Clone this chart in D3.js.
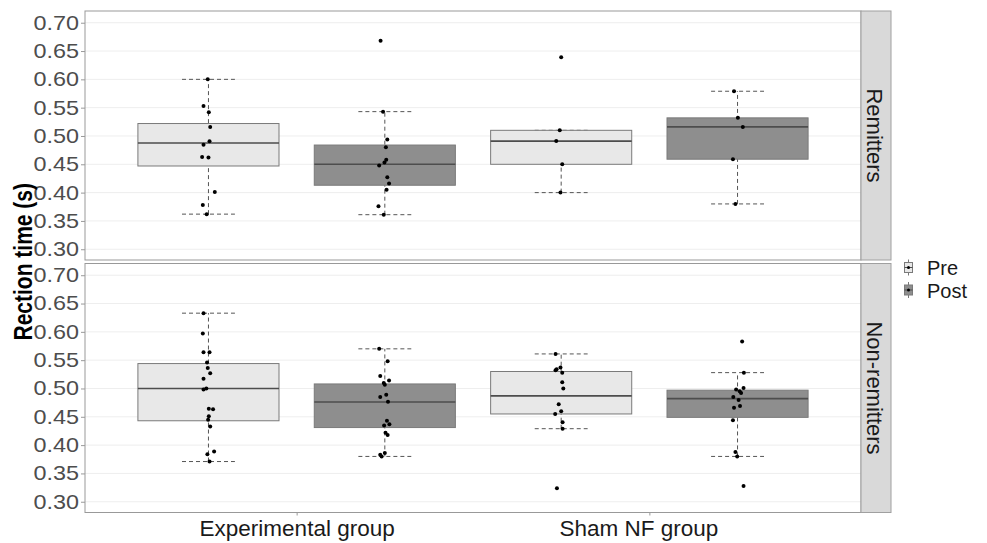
<!DOCTYPE html>
<html>
<head>
<meta charset="utf-8">
<script src="https://cdn.jsdelivr.net/npm/d3@7"></script>
<style>
  body { margin: 0; background: #fff; }
  text { font-family: "Liberation Sans", Arial, sans-serif; }
</style>
</head>
<body>
<svg id="grafico" width="987" height="543"></svg>
<script>
// data
var groups = ["Experimental group", "Sham NF group"];
var times = ["Pre", "Post"];
var panels = ["Remitters", "Non-remitters"];
var yTicks = [0.30, 0.35, 0.40, 0.45, 0.50, 0.55, 0.60, 0.65, 0.70];

// box stats [lower whisker, q1, median, q3, upper whisker], order: Exp Pre, Exp Post, Sham Pre, Sham Post
var remittersBoxes = [
  [0.362, 0.447, 0.4875, 0.522, 0.600],
  [0.361, 0.413, 0.450, 0.484, 0.543],
  [0.400, 0.450, 0.491, 0.510, 0.510],
  [0.380, 0.459, 0.516, 0.532, 0.579]
];
var nonRemittersBoxes = [
  [0.371, 0.443, 0.500, 0.544, 0.633],
  [0.380, 0.431, 0.476, 0.508, 0.570],
  [0.429, 0.455, 0.487, 0.530, 0.561],
  [0.380, 0.449, 0.482, 0.497, 0.528]
];

// individual values [reaction time, jitter in category units]
var remittersPoints = [
  [[0.600,-0.002],[0.553,-0.014],[0.542,0.001],[0.516,0.005],[0.4905,0.003],[0.4845,-0.014],[0.463,-0.018],[0.462,0.000],[0.401,0.018],[0.378,-0.016],[0.362,-0.005]],
  [[0.668,-0.012],[0.543,-0.005],[0.494,0.007],[0.480,0.003],[0.458,0.004],[0.453,-0.001],[0.448,-0.016],[0.427,0.007],[0.416,0.012],[0.405,0.005],[0.376,-0.018],[0.361,-0.003]],
  [[0.639,0.000],[0.510,-0.004],[0.491,-0.014],[0.450,0.003],[0.400,-0.002]],
  [[0.579,-0.010],[0.532,0.001],[0.516,0.015],[0.459,-0.013],[0.380,-0.006]]
];
var nonRemittersPoints = [
  [[0.633,-0.014],[0.597,-0.016],[0.564,-0.014],[0.564,0.003],[0.546,-0.004],[0.536,-0.002],[0.527,0.005],[0.517,-0.014],[0.498,-0.014],[0.500,-0.006],[0.464,0.001],[0.4635,0.013],[0.451,0.001],[0.445,-0.001],[0.433,0.005],[0.384,-0.003],[0.3885,0.016],[0.371,0.003]],
  [[0.570,-0.016],[0.548,0.008],[0.522,-0.013],[0.514,0.012],[0.5095,-0.003],[0.5065,0.000],[0.489,0.004],[0.485,-0.013],[0.4765,0.009],[0.443,0.006],[0.437,0.013],[0.4345,-0.002],[0.422,0.002],[0.418,0.008],[0.383,-0.013],[0.386,0.000],[0.380,-0.009]],
  [[0.561,-0.016],[0.532,-0.016],[0.534,-0.013],[0.537,-0.002],[0.528,0.003],[0.511,0.003],[0.500,0.006],[0.472,-0.007],[0.460,0.000],[0.455,-0.017],[0.4405,0.004],[0.429,0.004],[0.324,-0.012]],
  [[0.583,0.013],[0.528,0.018],[0.501,0.017],[0.498,-0.004],[0.495,0.006],[0.492,0.010],[0.485,-0.012],[0.4795,0.003],[0.469,0.007],[0.466,-0.010],[0.444,-0.013],[0.388,-0.006],[0.380,-0.001],[0.328,0.017]]
];

var panelBoxes = [remittersBoxes, nonRemittersBoxes];
var panelPoints = [remittersPoints, nonRemittersPoints];

// dimensions
var svg = d3.select("svg#grafico");
var left = 85, right = 861, stripW = 30;
var panelTops = [11, 263.5], panelH = 249;
var yLim = [0.281, 0.7207];

var x = d3.scaleLinear().domain([0.4, 2.6]).range([left, right]);
var dodge = 0.25, boxW = 0.4, capW = 0.15;
var fillColor = d3.scaleOrdinal().domain(times).range(["#e8e8e8", "#8e8e8e"]);

panels.forEach(function(p, pi) {
  var top = panelTops[pi];
  var y = d3.scaleLinear().domain(yLim).range([top + panelH, top]);
  var g = svg.append("g");

  // grid
  g.selectAll(".grid").data(yTicks).enter().append("line")
    .attr("x1", left).attr("x2", right)
    .attr("y1", function(d) { return y(d); })
    .attr("y2", function(d) { return y(d); })
    .attr("stroke", "#eeeeee").attr("stroke-width", 1);

  var boxes = panelBoxes[pi].map(function(s, i) {
    return { stats: s, cx: (Math.floor(i / 2) + 1) + (i % 2 === 0 ? -dodge : dodge), time: times[i % 2] };
  });

  // dashed whiskers + caps
  boxes.forEach(function(b) {
    var s = b.stats;
    g.append("line")
      .attr("x1", x(b.cx)).attr("x2", x(b.cx))
      .attr("y1", y(s[0])).attr("y2", y(s[4]))
      .attr("stroke", "#555").attr("stroke-dasharray", "4,3");
    [s[0], s[4]].forEach(function(v) {
      g.append("line")
        .attr("x1", x(b.cx - capW / 2)).attr("x2", x(b.cx + capW / 2))
        .attr("y1", y(v)).attr("y2", y(v))
        .attr("stroke", "#555").attr("stroke-dasharray", "4,3");
    });
  });

  // boxes
  boxes.forEach(function(b) {
    var s = b.stats;
    g.append("rect")
      .attr("x", x(b.cx - boxW / 2)).attr("width", x(b.cx + boxW / 2) - x(b.cx - boxW / 2))
      .attr("y", y(s[3])).attr("height", y(s[1]) - y(s[3]))
      .attr("fill", fillColor(b.time)).attr("stroke", "#7a7a7a").attr("stroke-width", 1);
    g.append("line")
      .attr("x1", x(b.cx - boxW / 2)).attr("x2", x(b.cx + boxW / 2))
      .attr("y1", y(s[2])).attr("y2", y(s[2]))
      .attr("stroke", "#4d4d4d").attr("stroke-width", 1.6);
  });

  // jittered points
  panelPoints[pi].forEach(function(pts, i) {
    var cx = boxes[i].cx;
    g.selectAll(null).data(pts).enter().append("circle")
      .attr("cx", function(d) { return x(cx + d[1]); })
      .attr("cy", function(d) { return y(d[0]); })
      .attr("r", 2).attr("fill", "#000");
  });

  // panel border
  g.append("rect")
    .attr("x", left).attr("y", top).attr("width", right - left).attr("height", panelH)
    .attr("fill", "none").attr("stroke", "#999").attr("stroke-width", 1);

  // strip
  g.append("rect")
    .attr("x", right).attr("y", top).attr("width", stripW).attr("height", panelH)
    .attr("fill", "#d9d9d9").attr("stroke", "#a0a0a0").attr("stroke-width", 1);
  g.append("text")
    .attr("transform", "translate(" + (right + 6) + "," + (top + panelH / 2) + ") rotate(90)")
    .attr("text-anchor", "middle")
    .style("font-size", "22px").style("fill", "#1a1a1a")
    .text(p);

  // y axis
  var ax = g.append("g").attr("transform", "translate(" + left + ",0)")
    .call(d3.axisLeft(y).tickValues(yTicks).tickFormat(d3.format(".2f")).tickSize(4).tickPadding(2));
  ax.select(".domain").remove();
  ax.selectAll(".tick line").attr("stroke", "#999");
  ax.selectAll(".tick text")
    .attr("x", -6 / 1.17)
    .attr("transform", "scale(1.17,1)")
    .style("font-size", "20px").style("fill", "#4d4d4d");
});

// x axis
var bottom = panelTops[1] + panelH;
var xa = svg.append("g").attr("transform", "translate(0," + bottom + ")")
  .call(d3.axisBottom(x).tickValues([1, 2]).tickFormat(function(d) { return groups[d - 1]; }).tickSize(3).tickPadding(4));
xa.select(".domain").remove();
xa.selectAll(".tick line").attr("stroke", "#999");
xa.selectAll(".tick text")
  .attr("dx", function(d) { return d === 2 ? -11 : 0; })
  .attr("y", 8).attr("dy", "0.71em")
  .style("font-size", "22.5px").style("fill", "#1a1a1a");

// y title
svg.append("text")
  .attr("transform", "translate(32," + ((panelTops[0] + bottom) / 2) + ") scale(1.25,1) rotate(-90)")
  .attr("text-anchor", "middle")
  .style("font-size", "21px").style("font-weight", "bold").style("fill", "#000")
  .text("Rection time (s)");

// legend
var legend = svg.selectAll(".legend").data(times).enter().append("g")
  .attr("transform", function(d, i) { return "translate(908.5," + (267.5 + i * 22.5) + ")"; });
legend.append("line").attr("y1", -8).attr("y2", 8).attr("stroke", "#777");
legend.append("rect").attr("x", -4).attr("y", -5).attr("width", 8).attr("height", 10)
  .attr("fill", function(d) { return fillColor(d); }).attr("stroke", "#7a7a7a");
legend.append("line").attr("x1", -4).attr("x2", 4).attr("stroke", "#4d4d4d");
legend.append("circle").attr("r", 1.5).attr("fill", "#000");
legend.append("text").attr("x", 18.5).attr("y", 7.5)
  .style("font-size", "20px").style("fill", "#1a1a1a")
  .text(function(d) { return d; });
</script>
</body>
</html>
